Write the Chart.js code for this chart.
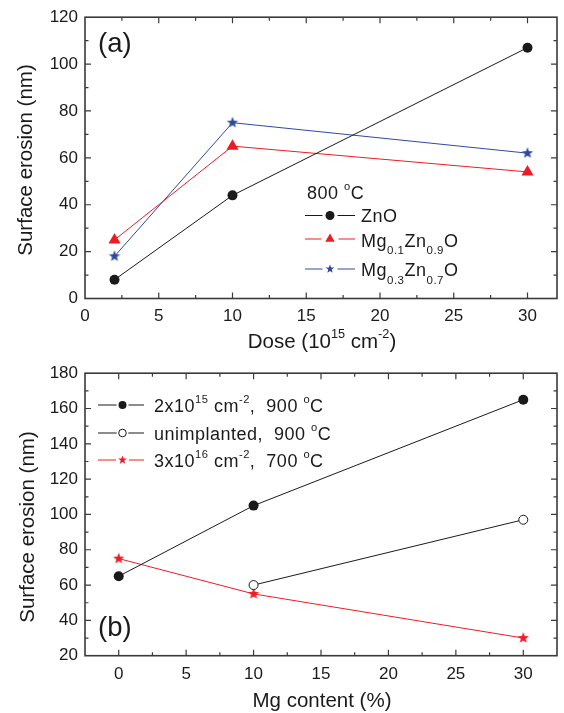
<!DOCTYPE html>
<html>
<head>
<meta charset="utf-8">
<script src="https://cdn.jsdelivr.net/npm/chart.js@4/dist/chart.umd.min.js"></script>
<style>
  html, body { margin:0; padding:0; background:#fff; }
  #wrap { position:relative; width:564px; height:713px; }
  canvas { position:absolute; left:0; }
  #chartA { top:0; }
  #chartB { top:356px; }
</style>
</head>
<body>
<div id="wrap">
  <canvas id="chartA" width="564" height="356"></canvas>
  <canvas id="chartB" width="564" height="357"></canvas>
</div>
<script>
// ===== Data: panel (a) =====
const doseA = [2, 10, 30];
const znO = [8, 44, 107];
const mg01 = [25, 65, 54];
const mg03 = [18, 75, 62];
const xTicksA = [0, 5, 10, 15, 20, 25, 30];
const yTicksA = [0, 20, 40, 60, 80, 100, 120];

// ===== Data: panel (b) =====
const mgContent = [0, 10, 30];
const dose2e15_900 = [65, 105, 165];
const unimplMg = [10, 30];
const unimpl_900 = [60, 97];
const dose3e16_700 = [75, 55, 30];
const xTicksB = [0, 5, 10, 15, 20, 25, 30];
const yTicksB = [20, 40, 60, 80, 100, 120, 140, 160, 180];

// ===== Styles =====
const FONT = "'Liberation Sans', Arial, sans-serif";
const TXT = '#1a1a1a';
const BLACK = '#1a1a1a';
const RED = '#ed1c24';
const BLUE = '#2e4a9e';

function pts(xs, ys){ return xs.map((x, i) => ({ x: x, y: ys[i] })); }

function starPath(ctx, x, y, r){
  ctx.beginPath();
  for(let i = 0; i < 10; i++){
    const rr = i % 2 === 0 ? r : r * 0.42;
    const ang = -Math.PI / 2 + i * Math.PI / 5;
    const px = x + rr * Math.cos(ang), py = y + rr * Math.sin(ang);
    if(i === 0) ctx.moveTo(px, py); else ctx.lineTo(px, py);
  }
  ctx.closePath();
}

function makeStar(r, color){
  const c = document.createElement('canvas');
  c.width = c.height = Math.ceil(2 * r + 2);
  const g = c.getContext('2d');
  g.fillStyle = color;
  starPath(g, c.width / 2, c.height / 2, r);
  g.fill();
  return c;
}

function drawMark(ctx, kind, x, y, r, color){
  ctx.save();
  ctx.fillStyle = color; ctx.strokeStyle = color; ctx.lineWidth = 1;
  if(kind === 'circle'){ ctx.beginPath(); ctx.arc(x, y, r, 0, Math.PI * 2); ctx.fill(); }
  else if(kind === 'open'){ ctx.beginPath(); ctx.arc(x, y, r, 0, Math.PI * 2); ctx.fillStyle = '#fff'; ctx.fill(); ctx.stroke(); }
  else if(kind === 'tri'){
    ctx.beginPath();
    for(let i = 0; i < 3; i++){
      const ang = -Math.PI / 2 + i * 2 * Math.PI / 3;
      const px = x + r * Math.cos(ang), py = y + r * Math.sin(ang);
      if(i === 0) ctx.moveTo(px, py); else ctx.lineTo(px, py);
    }
    ctx.closePath(); ctx.fill();
  }
  else if(kind === 'star'){ starPath(ctx, x, y, r); ctx.fill(); }
  ctx.restore();
}

// parts: [[text, ''|'sup'|'sub'], ...]
function partSize(p, size){ return p[1] === 'sup' ? size * 0.62 : (p[1] === 'sub' ? size * 0.64 : size); }
function richWidth(ctx, parts, size){
  let w = 0;
  parts.forEach(p => {
    ctx.font = partSize(p, size) + 'px ' + FONT;
    w += ctx.measureText(p[0]).width;
  });
  return w;
}
function drawRich(ctx, parts, x, y, size, align, spacing){
  ctx.save();
  ctx.fillStyle = TXT;
  ctx.textBaseline = 'alphabetic';
  ctx.textAlign = 'left';
  if(spacing) ctx.letterSpacing = spacing + 'px';
  let cx = align === 'center' ? x - richWidth(ctx, parts, size) / 2 : x;
  parts.forEach(p => {
    ctx.font = partSize(p, size) + 'px ' + FONT;
    const dy = p[1] === 'sup' ? -size * 0.5 : (p[1] === 'sub' ? size * 0.44 : 0);
    ctx.fillText(p[0], cx, y + dy);
    cx += ctx.measureText(p[0]).width;
  });
  ctx.restore();
}

function legendRow(ctx, kind, color, r, x0, xm, x1, y, gap){
  ctx.save();
  ctx.strokeStyle = color; ctx.lineWidth = 1;
  ctx.beginPath();
  ctx.moveTo(x0, y); ctx.lineTo(xm - r - gap, y);
  ctx.moveTo(xm + r + gap, y); ctx.lineTo(x1, y);
  ctx.stroke();
  ctx.restore();
  drawMark(ctx, kind, xm, y, r, color);
}

// ===== Frame, inward ticks, titles =====
function decoPlugin(o){
  return {
    id: 'deco' + o.tag,
    afterDraw(chart){
      const ctx = chart.ctx, a = chart.chartArea;
      const xs = chart.scales.x, ys = chart.scales.y;
      ctx.save();
      ctx.strokeStyle = '#3a3a3a';
      ctx.lineWidth = 1.2;
      ctx.beginPath();
      for(let v = Math.ceil(xs.min / o.xMinor) * o.xMinor; v <= xs.max + 1e-9; v += o.xMinor){
        const px = xs.getPixelForValue(v);
        if(px - a.left < 1 || a.right - px < 1) continue;
        const len = Math.abs(v % o.xMajor) < 1e-9 ? 6 : 3.5;
        ctx.moveTo(px, a.bottom); ctx.lineTo(px, a.bottom - len);
        ctx.moveTo(px, a.top); ctx.lineTo(px, a.top + len);
      }
      for(let v = Math.ceil(ys.min / o.yMinor) * o.yMinor; v <= ys.max + 1e-9; v += o.yMinor){
        const py = ys.getPixelForValue(v);
        if(py - a.top < 1 || a.bottom - py < 1) continue;
        const len = Math.abs(v % o.yMajor) < 1e-9 ? 6 : 3.5;
        ctx.moveTo(a.left, py); ctx.lineTo(a.left + len, py);
        ctx.moveTo(a.right, py); ctx.lineTo(a.right - len, py);
      }
      ctx.stroke();
      ctx.lineWidth = 1.6;
      ctx.strokeRect(a.left, a.top, a.right - a.left, a.bottom - a.top);
      ctx.restore();

      // y title
      ctx.save();
      ctx.translate(o.yTitleX, o.yTitleY);
      ctx.rotate(-Math.PI / 2);
      drawRich(ctx, [['Surface erosion (nm)', '']], 0, 0, 20.5, 'center');
      ctx.restore();

      o.extra(ctx, chart);
    }
  };
}

function baseScales(xMin, xMax, yMin, yMax, xTicks, yTicks, xH){
  const tickFont = { family: FONT, size: 17 };
  return {
    x: {
      type: 'linear', min: xMin, max: xMax,
      grid: { display: false, drawTicks: false }, border: { display: false },
      afterBuildTicks: s => { s.ticks = xTicks.map(v => ({ value: v })); },
      afterFit: s => { s.height = xH; },
      ticks: { font: tickFont, color: TXT, padding: 8, maxRotation: 0, autoSkip: false }
    },
    y: {
      type: 'linear', min: yMin, max: yMax,
      grid: { display: false, drawTicks: false }, border: { display: false },
      afterBuildTicks: s => { s.ticks = yTicks.map(v => ({ value: v })); },
      afterFit: s => { s.width = 85; },
      ticks: { font: tickFont, color: TXT, padding: 7, autoSkip: false }
    }
  };
}

const commonOpts = {
  responsive: false,
  animation: false,
  devicePixelRatio: 1,
  plugins: { legend: { display: false }, tooltip: { enabled: false } }
};

// ===== Panel (a) =====
new Chart(document.getElementById('chartA').getContext('2d'), {
  type: 'line',
  data: {
    datasets: [
      { label: 'ZnO', data: pts(doseA, znO), borderColor: BLACK, backgroundColor: BLACK,
        borderWidth: 1, pointStyle: 'circle', pointRadius: 5, pointBorderWidth: 0 },
      { label: 'Mg0.1Zn0.9O', data: pts(doseA, mg01), borderColor: RED, backgroundColor: RED,
        borderWidth: 1, pointStyle: 'triangle', pointRadius: 7, pointBorderWidth: 0 },
      { label: 'Mg0.3Zn0.7O', data: pts(doseA, mg03), borderColor: BLUE, backgroundColor: BLUE,
        borderWidth: 1, pointStyle: makeStar(6, BLUE), pointRadius: 6 }
    ]
  },
  options: Object.assign({}, commonOpts, {
    layout: { padding: { top: 15, right: 4, left: 0, bottom: 0 } },
    scales: baseScales(0, 32, 0, 120, xTicksA, yTicksA, 356 - 298.5)
  }),
  plugins: [decoPlugin({
    tag: 'A', xMinor: 2.5, xMajor: 5, yMinor: 10, yMajor: 20, yTitleX: 32, yTitleY: 160,
    extra(ctx){
      drawRich(ctx, [['(a)', '']], 98, 51.5, 27.5, 'left');
      drawRich(ctx, [['Dose (10', ''], ['15', 'sup'], [' cm', ''], ['-2', 'sup'], [')', '']], 322, 348, 20.5, 'center');
      drawRich(ctx, [['800 ', ''], ['o', 'sup'], ['C', '']], 307, 199, 18, 'left', 0.5);
      legendRow(ctx, 'circle', BLACK, 4.5, 305, 330, 355, 215.5, 3);
      drawRich(ctx, [['ZnO', '']], 361, 222, 18, 'left', 0.5);
      legendRow(ctx, 'tri', RED, 5.5, 305, 330, 355, 239, 3);
      drawRich(ctx, [['Mg', ''], ['0.1', 'sub'], ['Zn', ''], ['0.9', 'sub'], ['O', '']], 361, 246.5, 18, 'left', 0.5);
      legendRow(ctx, 'star', BLUE, 4.5, 305, 330, 355, 269, 3);
      drawRich(ctx, [['Mg', ''], ['0.3', 'sub'], ['Zn', ''], ['0.7', 'sub'], ['O', '']], 361, 276, 18, 'left', 0.5);
    }
  })]
});

// ===== Panel (b) =====
new Chart(document.getElementById('chartB').getContext('2d'), {
  type: 'line',
  data: {
    datasets: [
      { label: '2x10^15 cm^-2, 900 C', data: pts(mgContent, dose2e15_900), borderColor: BLACK, backgroundColor: BLACK,
        borderWidth: 1, pointStyle: 'circle', pointRadius: 5, pointBorderWidth: 0 },
      { label: 'unimplanted, 900 C', data: pts(unimplMg, unimpl_900), borderColor: BLACK, backgroundColor: '#fff',
        borderWidth: 1, pointStyle: 'circle', pointRadius: 4.5, pointBorderWidth: 1 },
      { label: '3x10^16 cm^-2, 700 C', data: pts(mgContent, dose3e16_700), borderColor: RED, backgroundColor: RED,
        borderWidth: 1, pointStyle: makeStar(6, RED), pointRadius: 6 }
    ]
  },
  options: Object.assign({}, commonOpts, {
    layout: { padding: { top: 16, right: 4, left: 0, bottom: 0 } },
    scales: baseScales(-2.5, 32.5, 20, 180, xTicksB, yTicksB, 357 - 299.7)
  }),
  plugins: [decoPlugin({
    tag: 'B', xMinor: 2.5, xMajor: 5, yMinor: 10, yMajor: 20, yTitleX: 34, yTitleY: 171,
    extra(ctx){
      drawRich(ctx, [['(b)', '']], 98, 280, 27.5, 'left');
      drawRich(ctx, [['Mg content (%)', '']], 322, 350.7, 20.5, 'center');
      legendRow(ctx, 'circle', BLACK, 4, 98, 122.5, 144, 49, 2);
      drawRich(ctx, [['2x10', ''], ['15', 'sup'], [' cm', ''], ['-2', 'sup'], [',  900 ', ''], ['o', 'sup'], ['C', '']], 154, 55.5, 18, 'left', 0.5);
      legendRow(ctx, 'open', BLACK, 3.8, 98, 122.5, 144, 77, 2);
      drawRich(ctx, [['unimplanted,  900 ', ''], ['o', 'sup'], ['C', '']], 154, 83.5, 18, 'left', 0.5);
      legendRow(ctx, 'star', RED, 4.5, 98, 122.5, 144, 104, 2);
      drawRich(ctx, [['3x10', ''], ['16', 'sup'], [' cm', ''], ['-2', 'sup'], [',  700 ', ''], ['o', 'sup'], ['C', '']], 154, 110.5, 18, 'left', 0.5);
    }
  })]
});
</script>
</body>
</html>
